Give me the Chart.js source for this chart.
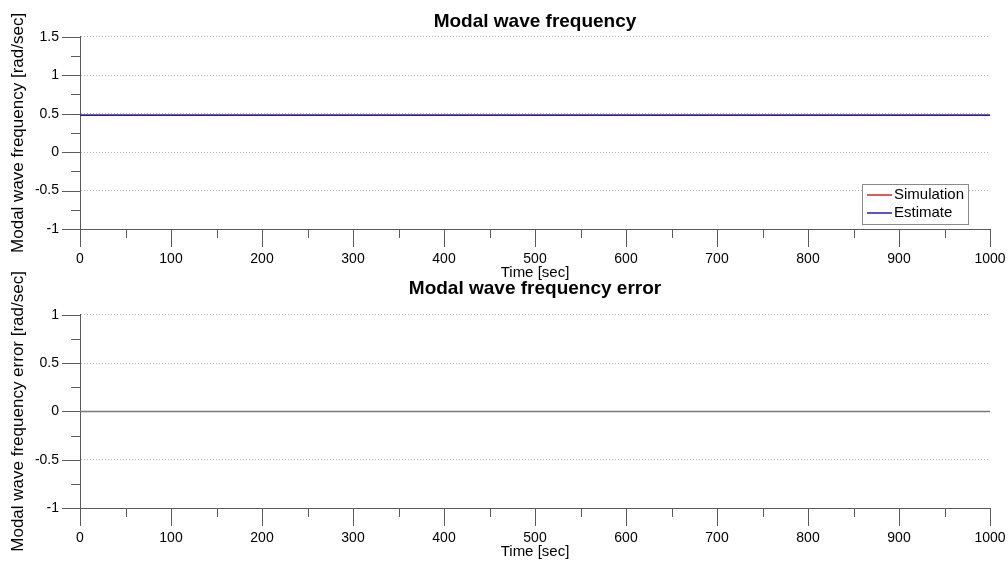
<!DOCTYPE html>
<html>
<head>
<meta charset="utf-8">
<script src="https://cdn.jsdelivr.net/npm/chart.js@4.4.1/dist/chart.umd.min.js"></script>
<style>
    html, body { margin: 0; padding: 0; background: #fff; }
    #wrap { position: relative; width: 1008px; height: 564px; overflow: hidden; }
    canvas { position: absolute; left: 0; }
    #freqChart { top: 0; }
    #errChart { top: 255px; }
</style>
</head>
<body>
<div id="wrap">
    <canvas id="freqChart" width="1008" height="285"></canvas>
    <canvas id="errChart" width="1008" height="309"></canvas>
</div>
<script>
// time axis of the simulation run [sec]
const timeSec = [0, 100, 200, 300, 400, 500, 600, 700, 800, 900, 1000]
// modal wave frequency [rad/sec]
const simulation = [0.48, 0.48, 0.48, 0.48, 0.48, 0.48, 0.48, 0.48, 0.48, 0.48, 0.48]
const estimate = [0.48, 0.48, 0.48, 0.48, 0.48, 0.48, 0.48, 0.48, 0.48, 0.48, 0.48]
// estimate - simulation
const freqError = [0, 0, 0, 0, 0, 0, 0, 0, 0, 0, 0]

const timeRange = [0, 1000]
const freqRange = [-1, 1.5]
const errRange = [-1, 1]

const FONT = "'Liberation Sans', Arial, sans-serif"
const AXIS = '#5a5a5a'

// matlab-ish ticks: long ones on major values, short ones between, pointing out
const outerTicks = {
    id: 'outerTicks',
    afterDraw(chart) {
        const {ctx, chartArea, scales} = chart
        const x = scales.x, y = scales.y
        ctx.save()
        ctx.strokeStyle = AXIS
        ctx.lineWidth = 1
        ctx.beginPath()
        for (let v = x.min; v <= x.max; v += 50) {
            const px = Math.round(x.getPixelForValue(v)) + 0.5
            const len = v % 100 === 0 ? 18 : 9
            ctx.moveTo(px, chartArea.bottom)
            ctx.lineTo(px, chartArea.bottom + len)
        }
        for (let v = y.min; v <= y.max + 1e-9; v += 0.25) {
            const py = Math.round(y.getPixelForValue(v)) + 0.5
            const major = Math.abs(v / 0.5 - Math.round(v / 0.5)) < 1e-9
            ctx.moveTo(chartArea.left - (major ? 18 : 9), py)
            ctx.lineTo(chartArea.left, py)
        }
        ctx.stroke()
        ctx.restore()
    }
}

// small boxed legend inside the lower right corner of the plot
const boxLegend = {
    id: 'boxLegend',
    afterDatasetsDraw(chart, args, opts) {
        if (!opts.show) return
        const {ctx, chartArea} = chart
        const items = chart.data.datasets.filter(d => d.label).sort((a, b) => a.legendIndex - b.legendIndex)
        const w = 106, rowH = 18, h = items.length * rowH + 4
        const bx = chartArea.right - 22 - w, by = chartArea.bottom - 5 - h
        ctx.save()
        ctx.fillStyle = '#fff'
        ctx.fillRect(bx, by, w, h)
        ctx.strokeStyle = '#8a8a8a'
        ctx.lineWidth = 1
        ctx.strokeRect(Math.round(bx) + 0.5, Math.round(by) + 0.5, w, h)
        ctx.font = '15px ' + FONT
        ctx.textBaseline = 'middle'
        ctx.fillStyle = '#000'
        items.forEach((d, i) => {
            const cy = by + 2 + rowH * i + rowH / 2
            ctx.strokeStyle = d.borderColor
            ctx.lineWidth = 1.5
            ctx.beginPath()
            ctx.moveTo(bx + 5, cy)
            ctx.lineTo(bx + 30, cy)
            ctx.stroke()
            ctx.fillText(d.label, bx + 32, cy)
        })
        ctx.restore()
    }
}

const makeOptions = (title, yTitle, yRange, titlePad, legend) => ({
    responsive: false,
    animation: false,
    layout: {padding: {left: 0, right: 18, top: 0, bottom: 0}},
    plugins: {
        legend: {display: false},
        tooltip: {enabled: false},
        title: {
            display: true,
            text: title,
            fullSize: false,
            color: '#000',
            font: {family: FONT, size: 19, weight: 'bold'},
            padding: titlePad
        },
        boxLegend: {show: legend}
    },
    scales: {
        x: {
            type: 'linear',
            min: timeRange[0],
            max: timeRange[1],
            afterFit: s => {
                s.height = 56
                // let the last label hang over the right padding like in the original
                s.paddingRight = 0
                s.paddingLeft = 0
            },
            grid: {display: false, drawTicks: false},
            border: {display: true, color: AXIS, width: 1},
            ticks: {
                stepSize: 100,
                padding: 22,
                maxRotation: 0,
                autoSkip: false,
                color: '#000',
                font: {family: FONT, size: 14},
                callback: v => String(v)
            },
            title: {
                display: true,
                text: 'Time [sec]',
                color: '#000',
                font: {family: FONT, size: 15},
                padding: {top: 0, bottom: 3}
            }
        },
        y: {
            min: yRange[0],
            max: yRange[1],
            afterFit: s => { s.width = 80 },
            grid: {
                display: true,
                drawTicks: false,
                lineWidth: 1,
                color: c => c.tick && c.tick.value === yRange[0] ? 'rgba(0,0,0,0)' : '#b4b4b4'
            },
            border: {display: true, color: AXIS, width: 1, dash: [1, 2]},
            ticks: {
                stepSize: 0.5,
                padding: 21,
                color: '#000',
                font: {family: FONT, size: 14},
                callback: v => String(Math.round(v * 100) / 100)
            },
            title: {
                display: true,
                text: yTitle,
                color: '#000',
                font: {family: FONT, size: 17},
                padding: {top: 8, bottom: 0}
            }
        }
    }
})

const lineSet = (label, data, color, order, legendIndex) => ({
    label: label,
    data: data,
    borderColor: color,
    backgroundColor: color,
    borderWidth: 1.5,
    pointRadius: 0,
    tension: 0,
    order: order,
    legendIndex: legendIndex
})

new Chart(document.getElementById('freqChart'), {
    type: 'line',
    data: {
        labels: timeSec,
        datasets: [
            lineSet('Simulation', simulation.map((v, i) => ({x: timeSec[i], y: v})), '#cc2a2a', 2, 0),
            lineSet('Estimate', estimate.map((v, i) => ({x: timeSec[i], y: v})), '#1f1faa', 1, 1)
        ]
    },
    options: makeOptions('Modal wave frequency', 'Modal wave frequency [rad/sec]', freqRange, {top: 10, bottom: 4}, true),
    plugins: [outerTicks, boxLegend]
})

new Chart(document.getElementById('errChart'), {
    type: 'line',
    data: {
        labels: timeSec,
        datasets: [
            lineSet('', freqError.map((v, i) => ({x: timeSec[i], y: v})), '#7a7a7a', 1, 0)
        ]
    },
    options: makeOptions('Modal wave frequency error', 'Modal wave frequency error [rad/sec]', errRange, {top: 22, bottom: 15}, false),
    plugins: [outerTicks, boxLegend]
})
</script>
</body>
</html>
